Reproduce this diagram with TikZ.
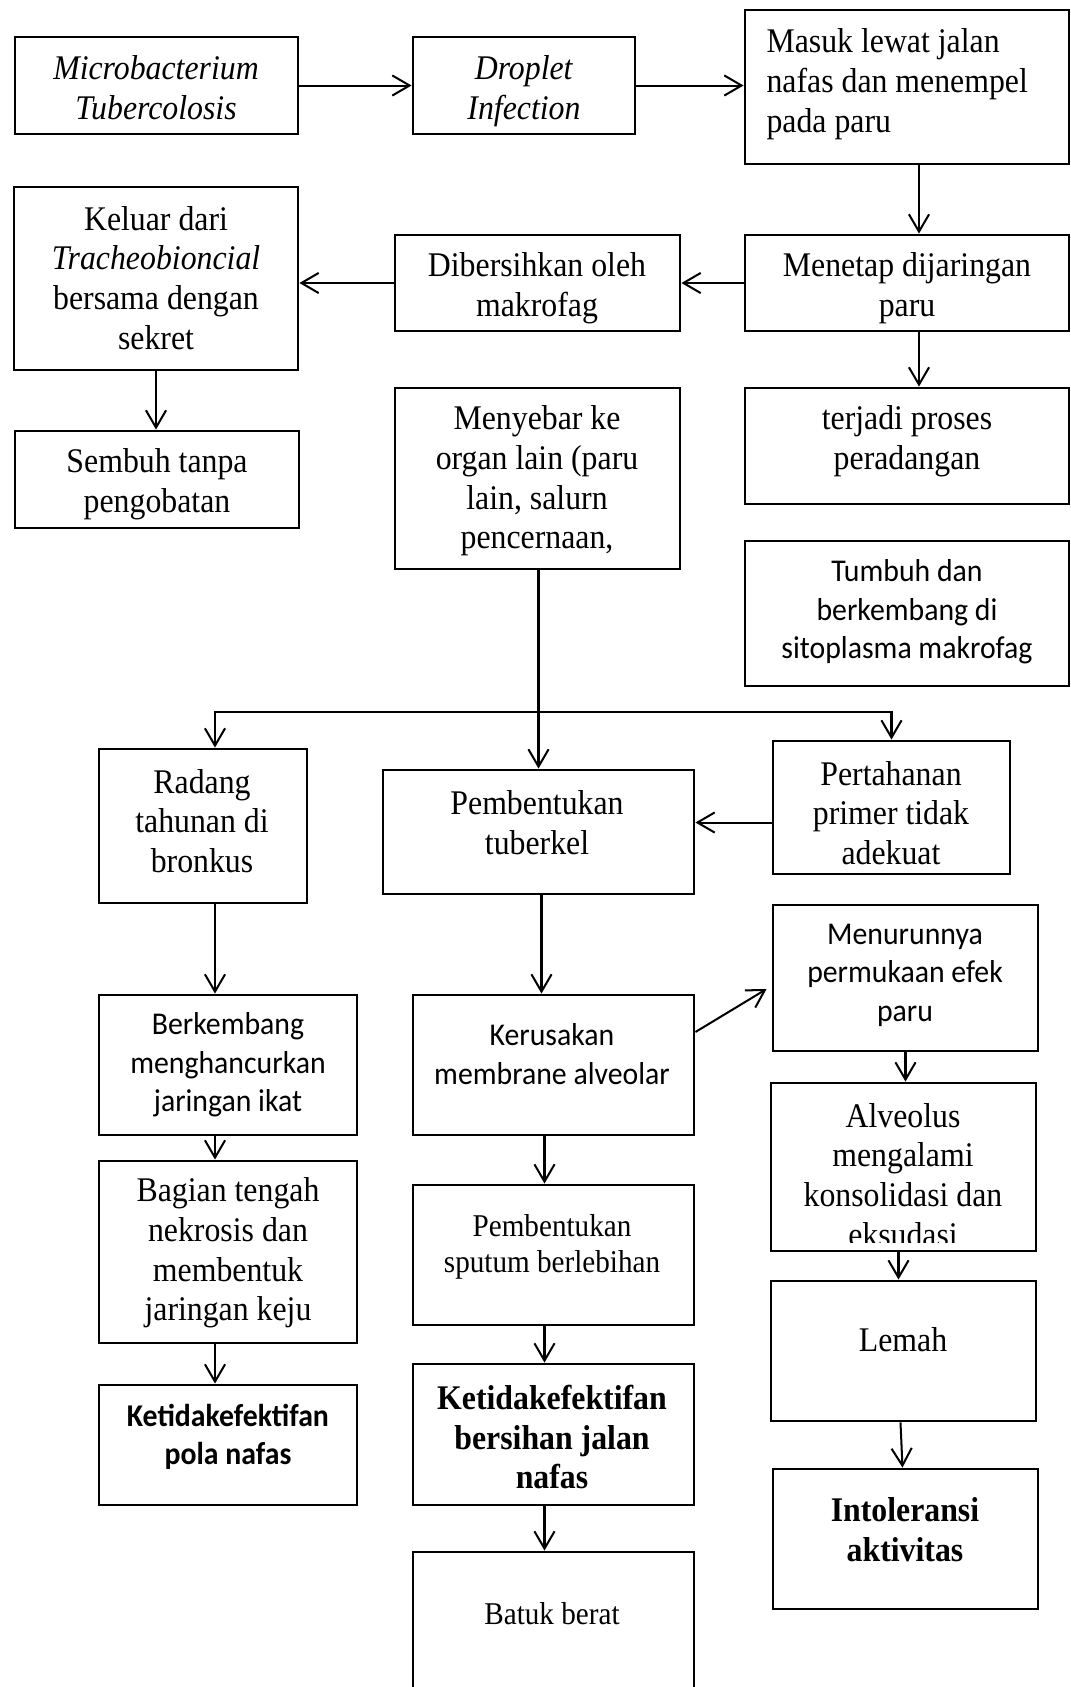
\documentclass[tikz,border=0pt]{standalone}
\usepackage{fontspec}
\setmainfont{Liberation Serif}[FakeStretch=0.92]
\setsansfont{Carlito}[FakeStretch=0.94]
\usetikzlibrary{arrows.meta,fit}
\tikzset{bx/.style={draw,line width=1pt,inner sep=0pt},
 tx/.style={align=center,inner sep=0pt,font=\fontsize{12}{13.8}\selectfont},
 ts/.style={align=center,inner sep=0pt,font=\fontsize{11}{12.65}\selectfont},
 sx/.style={align=center,inner sep=0pt,font=\sffamily\fontsize{11}{13.4}\selectfont},
 ar/.style={line width=0.7pt,-{Straight Barb[length=6pt,width=7pt]}}}

\begin{document}
\begin{tikzpicture}[x=0.3472pt,y=-0.3472pt]
\useasboundingbox(0,0)rectangle(1071,1687);\clip(0,0)rectangle(1071,1687);
% baris atas
\node[bx,fit={(15,37)(298,134)}](mt){};\node[tx](mtt)at(156,88){\textit{Microbacterium}\\\textit{Tubercolosis}};
\node[bx,fit={(413,37)(635,134)}](dr){};\node[tx](drt)at(524,91){\textit{Droplet}\\\textit{Infection}};
\node[bx,fit={(745,10)(1069,164)}](ms){};\node[tx,align=left,anchor=west](mst)at(766,84){Masuk lewat jalan\\nafas dan menempel\\pada paru};
\node[bx,fit={(14,187)(298,370)}](kl){};\node[tx](klt)at(156,278){Keluar dari\\\textit{Tracheobioncial}\\bersama dengan\\sekret};
\node[bx,fit={(395,235)(680,331)}](db){};\node[tx](dbt)at(537,288){Dibersihkan oleh\\makrofag};
\node[bx,fit={(745,235)(1069,331)}](mn){};\node[tx](mnt)at(907,288){Menetap dijaringan\\paru};
\node[bx,fit={(15,431)(299,528)}](sb){};\node[tx](sbt)at(157,484){Sembuh tanpa\\pengobatan};
\node[bx,fit={(395,388)(680,569)}](my){};\node[tx](myt)at(537,481){Menyebar ke\\organ lain (paru\\lain, salurn\\pencernaan,};
\node[bx,fit={(745,388)(1069,504)}](tp){};\node[tx](tpt)at(907,441){terjadi proses\\peradangan};
\node[bx,fit={(745,541)(1069,686)}](tb){};\node[sx](tbt)at(907,612){Tumbuh dan\\berkembang di\\sitoplasma makrofag};
% baris tengah
\node[bx,fit={(99,749)(307,903)}](rd){};\node[tx](rdt)at(202,821){Radang\\tahunan di\\bronkus};
\node[bx,fit={(383,770)(694,894)}](pt){};\node[tx](ptt)at(537,823){Pembentukan\\tuberkel};
\node[bx,fit={(773,741)(1010,874)}](ph){};\node[tx](pht)at(891,813){Pertahanan\\primer tidak\\adekuat};
\node[bx,fit={(99,995)(357,1135)}](bk){};\node[sx](bkt)at(228,1065){Berkembang\\menghancurkan\\jaringan ikat};
\node[bx,fit={(413,995)(694,1135)}](kr){};\node[sx](krt)at(552,1054){Kerusakan\\membrane alveolar};
\node[bx,fit={(773,905)(1038,1051)}](mr){};\node[sx](mrt)at(905,975){Menurunnya\\permukaan efek\\paru};
\node[bx,fit={(771,1083)(1036,1251)}](al){};
\begin{scope}\clip(al.north west)rectangle([shift={(0,-10)}]al.south east);\node[tx](alt)at(903,1175){Alveolus\\mengalami\\konsolidasi dan\\eksudasi};\end{scope}
% baris bawah
\node[bx,fit={(99,1161)(357,1343)}](bg){};\node[tx](bgt)at(228,1253){Bagian tengah\\nekrosis dan\\membentuk\\jaringan keju};
\node[bx,fit={(413,1185)(694,1325)}](sp){};\node[ts](spt)at(552,1247){Pembentukan\\sputum berlebihan};
\node[bx,fit={(771,1281)(1036,1421)}](lm){};\node[tx](lmt)at(903,1340){Lemah};
\node[bx,fit={(99,1385)(357,1505)}](kp){};\node[sx,font=\sffamily\bfseries\fontsize{11}{13.4}\selectfont](kpt)at(228,1437){Ketidakefektifan\\pola nafas};
\node[bx,fit={(413,1364)(694,1505)}](kb){};\node[tx,font=\bfseries\fontsize{12}{13.8}\selectfont](kbt)at(552,1437){Ketidakefektifan\\bersihan jalan\\nafas};
\node[bx,fit={(773,1469)(1038,1609)}](it){};\node[tx,font=\bfseries\fontsize{12}{13.8}\selectfont](itt)at(905,1530){Intoleransi\\aktivitas};
\node[bx,fit={(413,1552)(694,1710)}](bt){};\node[ts](btt)at(552,1614){Batuk berat};
% panah
\draw[ar](mt)--(dr);\draw[ar](dr.east)--(dr.east-|ms.west);
\draw[ar]([shift={(12,0)}]ms.south)--([shift={(12,0)}]mn.north);
\draw[ar](mn)--(db);\draw[ar](db.west)--(db.west-|kl.east);
\draw[ar](kl.south)--(kl.south|-sb.north);
\draw[ar]([shift={(12,0)}]mn.south)--([shift={(12,0)}]tp.north);
\draw[ar]([shift={(1,0)}]my.south)--([shift={(1,0)}]my.south|-pt.north);
\path([shift={(1,0)}]my.south)++(0,142)coordinate(br);
\draw[ar](br)-|([shift={(12,0)}]rd.north);\draw[ar](br)-|(ph.north);
\draw[ar]([shift={(0,15)}]ph.west)--([shift={(0,15)}]ph.west-|pt.east);
\draw[ar]([shift={(12,0)}]rd.south)--([shift={(12,0)}]rd.south|-bk.north);
\draw[ar]([shift={(3,0)}]pt.south)--([shift={(3,0)}]pt.south|-kr.north);
\draw[ar]([shift={(0,-33)}]kr.east)--([shift={(-5,11)}]mr.west);
\draw[ar](mr.south)--(mr.south|-al.north);
\draw[ar]([shift={(-13,0)}]bk.south)--([shift={(-13,0)}]bg.north);
\draw[ar]([shift={(-13,0)}]bg.south)--([shift={(-13,0)}]kp.north);
\draw[ar]([shift={(-9,0)}]kr.south)--([shift={(-9,0)}]sp.north);
\draw[ar]([shift={(-9,0)}]sp.south)--([shift={(-9,0)}]kb.north);
\draw[ar]([shift={(-9,0)}]kb.south)--([shift={(-9,0)}]bt.north);
\draw[ar]([shift={(-5,0)}]al.south)--([shift={(-5,0)}]lm.north);
\draw[ar]([shift={(-3,0)}]lm.south)--([shift={(-3,0)}]it.north);
\end{tikzpicture}
\end{document}
